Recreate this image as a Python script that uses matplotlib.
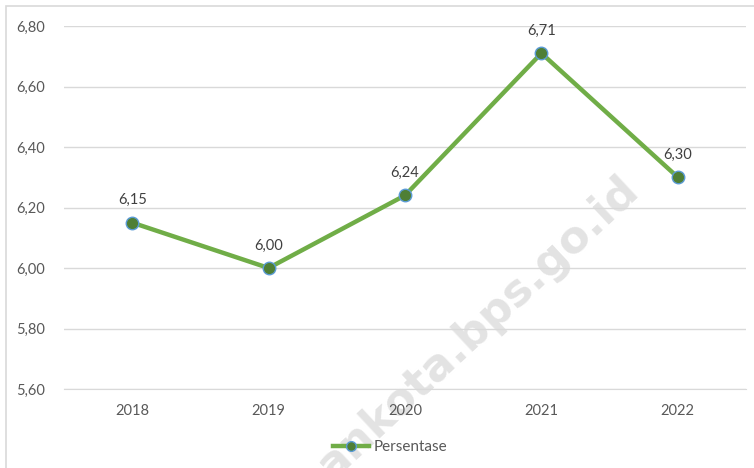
import matplotlib
matplotlib.use("Agg")
import matplotlib.pyplot as plt
from matplotlib.lines import Line2D
from matplotlib.patches import Rectangle

years = ["2018", "2019", "2020", "2021", "2022"]
values = [6.15, 6.00, 6.24, 6.71, 6.30]
labels = ["6,15", "6,00", "6,24", "6,71", "6,30"]
yticks = [5.60, 5.80, 6.00, 6.20, 6.40, 6.60, 6.80]
ytick_labels = ["5,60", "5,80", "6,00", "6,20", "6,40", "6,60", "6,80"]
series_name = "Persentase"

plt.rcParams['font.family'] = ['Lato', 'DejaVu Sans']
txt = '#595959'
green = '#70AD47'

fig = plt.figure(figsize=(7.54, 4.68), dpi=100)
ax = fig.add_axes([64/754, 1-389/468, (746-64)/754, (389-26)/468])
ax.patch.set_alpha(0)
ax.set_zorder(2)

# figure border (left & top visible)
fig.add_artist(Rectangle((6/754, -0.05), 1.2, (1-6/468)+0.05, transform=fig.transFigure,
                         fill=False, edgecolor='#D9D9D9', lw=1.2))

# watermark (behind the chart)
fig.text(478/754, 1-328/468, "ankota.bps.go.id", rotation=43, fontsize=32, fontweight='bold',
         color='#E3E3E3', ha='center', va='center', zorder=1, family='DejaVu Sans')

x = list(range(len(years)))
ax.plot(x, values, color=green, lw=3.2, marker='o', markersize=9,
        markerfacecolor='#4F7F35', markeredgecolor='#5B9BD5', markeredgewidth=1.0, zorder=3)
for xi, v, l in zip(x, values, labels):
    ax.annotate(l, (xi, v), xytext=(0, 11), textcoords='offset points',
                ha='center', va='bottom', fontsize=10.5, color='#404040')

ax.set_xlim(-0.5, len(years) - 0.5)
ax.set_ylim(5.60, 6.80)
ax.set_yticks(yticks)
ax.set_yticklabels(ytick_labels)
ax.set_xticks(x)
ax.set_xticklabels(years)
ax.tick_params(axis='y', length=0, pad=14, labelsize=10.5, labelcolor=txt)
ax.tick_params(axis='x', length=0, pad=11, labelsize=10.5, labelcolor=txt)
ax.grid(axis='y', color='#D9D9D9', lw=1.0)
ax.set_axisbelow(True)
for s in ax.spines.values():
    s.set_visible(False)
ax.spines['bottom'].set_visible(True)
ax.spines['bottom'].set_color('#D9D9D9')

handle = Line2D([], [], color=green, lw=3.2, marker='o', markersize=7,
                markerfacecolor='#4F7F35', markeredgecolor='#5B9BD5', markeredgewidth=1.0)
leg = fig.legend([handle], [series_name], loc='center', bbox_to_anchor=(390/754, 1-447/468),
                 frameon=False, fontsize=11, labelcolor=txt, handlelength=2.4, handletextpad=0.3)
leg.set_zorder(3)

fig.savefig("out.png", dpi=100)
